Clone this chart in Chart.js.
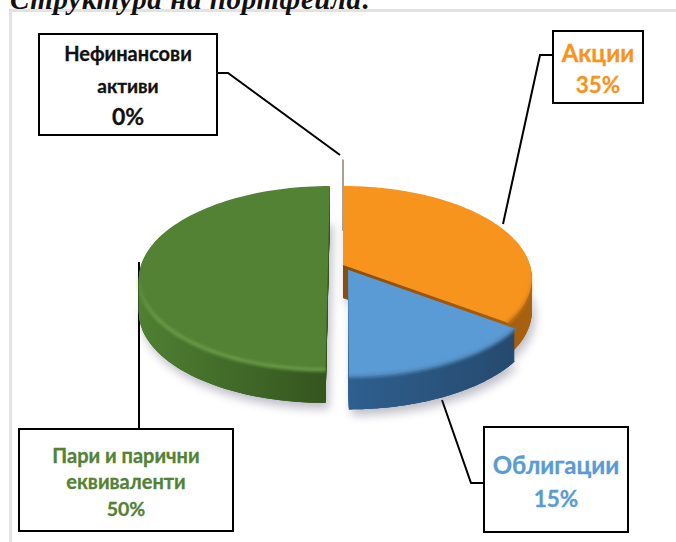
<!DOCTYPE html>
<html>
<head>
<meta charset="utf-8">
<script src="https://cdn.jsdelivr.net/npm/chart.js@4"></script>
<style>
  html, body { margin: 0; padding: 0; background: #fff; overflow: hidden; }
  #wrap { position: relative; width: 676px; height: 542px; overflow: hidden; }
  #frame { position: absolute; left: 9px; top: 9px; width: 680px; height: 560px; border: 3px solid #e2e2e2; box-sizing: border-box; }
  #title { position: absolute; left: 10px; top: -17px; font: italic bold 29px "Liberation Serif", serif; color: #111; white-space: nowrap; letter-spacing: 0.6px; }
  canvas { position: absolute; left: 0; top: 0; }
  .box { position: absolute; box-sizing: border-box; background: #fff; border: 2px solid #000; text-align: center; font-family: Lato, "Noto Sans", sans-serif; font-weight: 700; -webkit-text-stroke: 0.3px currentColor; }
  .box div { position: absolute; left: 0; right: 0; white-space: nowrap; transform: translateY(-50%); }
</style>
</head>
<body>
<div id="wrap">
  <div id="frame"></div>
  <div id="title">Структура на портфейла:</div>
  <canvas id="chart" width="676" height="542"></canvas>
</div>
<script>
// chart data
const categories = ['Акции', 'Облигации', 'Пари и парични еквиваленти', 'Нефинансови активи'];
const values = [35, 15, 50, 0];
const sliceOffsets = [0, 44, 60, 300];

// colours
const topColors = ['#f7941e', '#5b9bd5', '#548235', '#8a8078'];
const wallLeft = ['#8a4e0c', '#2e5f8e', '#4f8033', '#8a8078'];
const wallRight = ['#a8610f', '#264a6e', '#34541e', '#8a8078'];
const rimColors = ['#c9771a', '#4f86b8', '#6a9c48', '#8a8078'];

// callout boxes
const callouts = [
  { i: 3, rect: [38, 33, 180, 103], lines: ['Нефинансови', 'активи'], ys: [18, 50], sizes: [20, 19, 23], pctY: 81, color: '#111', leader: [[217, 73], [228, 73], [340, 155]] },
  { i: 0, rect: [552, 30, 92, 74], lines: ['Акции'], ys: [20], sizes: [24, 22.5], pctY: 52, color: '#f7941e', leader: [[552, 55], [540, 55], [503, 224]] },
  { i: 1, rect: [483, 426, 146, 107], lines: ['Облигации'], ys: [36], sizes: [24, 22.5], pctY: 70, color: '#5b9bd5', leader: [[483, 483], [471, 483], [442, 400]] },
  { i: 2, rect: [18, 428, 216, 104], lines: ['Пари и парични', 'еквиваленти'], ys: [25, 51], sizes: [20, 20, 19.5], pctY: 78, color: '#548235', leader: [[139, 428], [139, 262]] }
];

const depth = 33;
const persp = 0.141;
const squash = 0.482;

// maps a point of the flat pie (relative to its centre) on to the tilted disc
function project(arc, dx, dy) {
  const R = arc.outerRadius;
  const u = dx / R, v = dy / R;
  const w = 1 - persp * v;
  return [arc.x + R * u / w, arc.y + R * squash * v / w];
}

function slicePoints(arc) {
  const off = (arc.options.offset || 0) / 4;
  const mid = (arc.startAngle + arc.endAngle) / 2;
  const ox = Math.cos(mid) * off, oy = Math.sin(mid) * off;
  const pts = [project(arc, ox, oy)];
  const steps = 90;
  for (let s = 0; s <= steps; s++) {
    const a = arc.startAngle + (arc.endAngle - arc.startAngle) * s / steps;
    pts.push(project(arc, ox + Math.cos(a) * arc.outerRadius, oy + Math.sin(a) * arc.outerRadius));
  }
  return pts;
}

function tracePoints(ctx, pts, dy) {
  ctx.beginPath();
  pts.forEach((p, i) => i ? ctx.lineTo(p[0], p[1] + dy) : ctx.moveTo(p[0], p[1] + dy));
  ctx.closePath();
}

const tiltedPie = {
  id: 'tiltedPie',
  beforeDatasetDraw(chart, args) {
    const ctx = chart.ctx;
    const arcs = args.meta.data;

    // leader lines go under the pie
    ctx.save();
    ctx.strokeStyle = '#000';
    ctx.lineWidth = 2;
    callouts.forEach(c => {
      ctx.beginPath();
      c.leader.forEach((p, i) => i ? ctx.lineTo(p[0], p[1]) : ctx.moveTo(p[0], p[1]));
      ctx.stroke();
    });
    ctx.restore();

    // back to front
    const order = arcs.map((a, i) => i).filter(i => values[i] > 0)
      .sort((a, b) => Math.sin((arcs[a].startAngle + arcs[a].endAngle) / 2) - Math.sin((arcs[b].startAngle + arcs[b].endAngle) / 2));

    // the 0% slice is only a hairline
    arcs.forEach((arc, i) => {
      if (values[i] > 0) return;
      const pts = slicePoints(arc);
      ctx.save();
      ctx.strokeStyle = topColors[i];
      ctx.lineWidth = 1.5;
      ctx.beginPath();
      ctx.moveTo(pts[0][0], pts[0][1]);
      ctx.lineTo(pts[1][0], pts[1][1]);
      ctx.stroke();
      ctx.restore();
    });

    order.forEach(i => {
      const arc = arcs[i];
      const pts = slicePoints(arc);
      const xs = pts.map(p => p[0]);
      const grad = ctx.createLinearGradient(Math.min(...xs), 0, Math.max(...xs), 0);
      grad.addColorStop(0, wallLeft[i]);
      grad.addColorStop(1, wallRight[i]);

      // soft shadow under the slice
      ctx.save();
      ctx.shadowColor = 'rgba(70,70,100,0.35)';
      ctx.shadowBlur = 10;
      ctx.shadowOffsetX = 3;
      ctx.shadowOffsetY = 6;
      ctx.fillStyle = wallRight[i];
      tracePoints(ctx, pts, depth);
      ctx.fill();
      ctx.restore();

      // wall
      ctx.fillStyle = grad;
      for (let d = depth; d > 0; d--) {
        tracePoints(ctx, pts, d);
        ctx.fill();
      }

      // top face, with a soft rim on the front edge that fades towards the sides
      ctx.fillStyle = arc.options.backgroundColor;
      tracePoints(ctx, pts, 0);
      ctx.fill();
      const rimFade = ctx.createLinearGradient(0, arc.y + 5, 0, arc.y + 55);
      rimFade.addColorStop(0, rimColors[i] + '00');
      rimFade.addColorStop(1, rimColors[i] + 'ff');
      ctx.save();
      ctx.filter = 'blur(1.5px)';
      ctx.strokeStyle = rimFade;
      ctx.lineWidth = 3.5;
      ctx.beginPath();
      let started = false;
      pts.slice(1).forEach(p => {
        if (p[1] < arc.y + 5) return;
        if (started) ctx.lineTo(p[0], p[1]); else { ctx.moveTo(p[0], p[1]); started = true; }
      });
      ctx.stroke();
      ctx.restore();
    });
    return false;
  }
};

new Chart(document.getElementById('chart'), {
  type: 'pie',
  data: {
    labels: categories,
    datasets: [{
      data: values,
      backgroundColor: topColors,
      offset: sliceOffsets,
      borderWidth: 0
    }]
  },
  options: {
    responsive: false,
    animation: false,
    radius: 187,
    layout: { padding: { left: 10, right: 0, top: 0, bottom: 12 } },
    plugins: { legend: { display: false }, tooltip: { enabled: false } }
  },
  plugins: [tiltedPie]
});

// callout boxes as real text
const wrap = document.getElementById('wrap');
callouts.forEach(c => {
  const box = document.createElement('div');
  box.className = 'box';
  box.style.cssText = `left:${c.rect[0]}px;top:${c.rect[1]}px;width:${c.rect[2]}px;height:${c.rect[3]}px;color:${c.color}`;
  const texts = [...c.lines, values[c.i] + '%'];
  const ys = [...c.ys, c.pctY];
  texts.forEach((t, k) => {
    const line = document.createElement('div');
    line.textContent = t;
    line.style.top = ys[k] + 'px';
    line.style.fontSize = c.sizes[k] + 'px';
    box.appendChild(line);
  });
  wrap.appendChild(box);
});
</script>
</body>
</html>
